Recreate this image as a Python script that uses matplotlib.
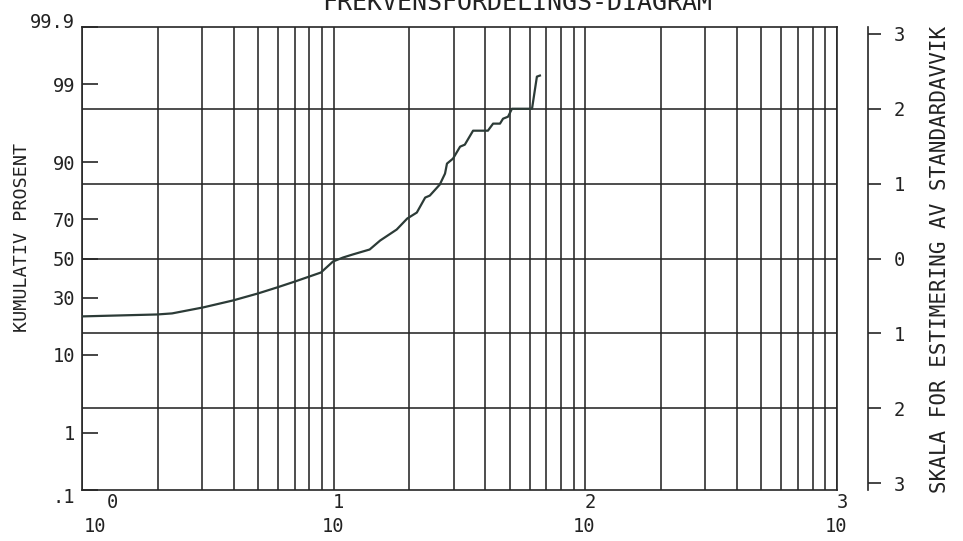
import numpy as np
import matplotlib
matplotlib.use("Agg")
import matplotlib.pyplot as plt
from matplotlib import scale as mscale, transforms as mtransforms, ticker
from statistics import NormalDist

# Cumulative frequency curve: x values (log scale) and cumulative percent
x_vals = [1.0, 1.99, 2.28, 3.03, 3.98, 5.00, 5.95, 7.02, 8.90, 9.94,
          10.9, 11.9, 13.9, 15.3, 17.8, 19.6, 21.4, 23.1, 24.1, 26.4,
          27.7, 28.2, 29.8, 31.8, 33.2, 35.8, 41.0, 43.0, 45.8, 47.1,
          49.3, 51.1, 61.4, 64.2, 66.0]
cum_pct = [21.98, 22.75, 23.18, 25.69, 28.77, 32.03, 34.94, 37.94, 42.58, 48.40,
           50.53, 52.13, 54.78, 59.48, 65.05, 70.31, 73.02, 79.20, 79.95, 83.81,
           87.15, 89.74, 90.88, 93.23, 93.57, 95.60, 95.60, 96.41, 96.41, 96.90,
           97.08, 97.72, 97.72, 99.24, 99.27]

pct_ticks = [0.1, 1, 10, 30, 50, 70, 90, 99, 99.9]
pct_labels = [".1", "1", "10", "30", "50", "70", "90", "99", "99.9"]
sigma_ticks = [-3, -2, -1, 0, 1, 2, 3]
sigma_labels = ["3", "2", "1", "0", "1", "2", "3"]
sigma_lines = [-2, -1, 0, 1, 2]
decades = [0, 1, 2, 3]

title = "FREKVENSFORDELINGS-DIAGRAM"
left_title = "KUMULATIV PROSENT"
right_title = "SKALA FOR ESTIMERING AV STANDARDAVVIK"

_nd = NormalDist()
_ppf = np.vectorize(lambda p: _nd.inv_cdf(min(max(p / 100.0, 1e-9), 1 - 1e-9)), otypes=[float])
_cdf = np.vectorize(lambda z: _nd.cdf(z) * 100.0, otypes=[float])


class ProbitTransform(mtransforms.Transform):
    input_dims = output_dims = 1

    def transform_non_affine(self, a):
        return _ppf(np.asarray(a, dtype=float))

    def inverted(self):
        return InvProbitTransform()


class InvProbitTransform(mtransforms.Transform):
    input_dims = output_dims = 1

    def transform_non_affine(self, a):
        return _cdf(np.asarray(a, dtype=float))

    def inverted(self):
        return ProbitTransform()


class ProbitScale(mscale.ScaleBase):
    name = "probit"

    def get_transform(self):
        return ProbitTransform()

    def set_default_locators_and_formatters(self, axis):
        axis.set_major_locator(ticker.FixedLocator(pct_ticks))
        axis.set_major_formatter(ticker.FixedFormatter(pct_labels))
        axis.set_minor_locator(ticker.NullLocator())

    def limit_range_for_scale(self, vmin, vmax, minpos):
        return max(vmin, 1e-7), min(vmax, 100 - 1e-7)


mscale.register_scale(ProbitScale)

INK = "#262626"
CURVE = "#2c3b37"
FONT = ["DejaVu Sans Mono", "DejaVu Sans"]
plt.rcParams["font.family"] = FONT

W, H = 963, 541
fig = plt.figure(figsize=(W / 100, H / 100), dpi=100)
fig.patch.set_facecolor("white")

left, right, top, bottom = 82, 837, 27, 490
ax = fig.add_axes([left / W, 1 - bottom / H, (right - left) / W, (bottom - top) / H])
ax.set_xscale("log")
ax.set_yscale("probit")
ax.set_xlim(10 ** decades[0], 10 ** decades[-1])
ax.set_ylim(0.1, 99.9)

# vertical grid at every decade subdivision
ax.xaxis.set_major_locator(ticker.LogLocator(base=10))
ax.xaxis.set_minor_locator(ticker.LogLocator(base=10, subs=np.arange(2, 10)))
ax.xaxis.set_major_formatter(ticker.NullFormatter())
ax.xaxis.set_minor_formatter(ticker.NullFormatter())
ax.grid(True, which="both", axis="x", color=INK, linewidth=1.15)
ax.tick_params(axis="x", which="both", length=0)

# horizontal lines at whole standard deviations
for s in sigma_lines:
    ax.axhline(_cdf(s), color=INK, linewidth=1.15, zorder=1)

for sp in ax.spines.values():
    sp.set_color(INK)
    sp.set_linewidth(1.2)

ax.set_yticks(pct_ticks)
ax.set_yticklabels(pct_labels)
ax.tick_params(axis="y", direction="in", length=11.5, width=1.2, color=INK,
               pad=5, labelsize=13.5, labelcolor="#222222")
for lab in ax.get_yticklabels():
    if lab.get_text() == "99.9":
        lab.set_transform(lab.get_transform() + mtransforms.ScaledTranslation(0, 5 / 72, fig.dpi_scale_trans))
    elif lab.get_text() == ".1":
        lab.set_transform(lab.get_transform() + mtransforms.ScaledTranslation(0, -4 / 72, fig.dpi_scale_trans))

ax.plot(x_vals, cum_pct, color=CURVE, linewidth=1.6, zorder=3, solid_joinstyle="round")

# decade labels written as 10 with the exponent above
xform = mtransforms.blended_transform_factory(ax.transData, fig.transFigure)
for i, d in enumerate(decades):
    shift = 13 if i == 0 else -1
    ax.annotate("10", xy=(10 ** d, 1 - 526 / H), xycoords=xform,
                xytext=(shift * 0.72, 0), textcoords="offset points",
                ha="center", va="center", fontsize=13.5, color="#222222")
    eshift = 30 if i == 0 else 5
    ax.annotate(str(d), xy=(10 ** d, 1 - 502 / H), xycoords=xform,
                xytext=(eshift * 0.72, 0), textcoords="offset points",
                ha="center", va="center", fontsize=13.5, color="#222222")

# separate standard-deviation scale on the right
ax_r = fig.add_axes([868 / W - 0.0005, 1 - bottom / H, 0.0005, (bottom - top) / H])
ax_r.set_ylim(_ppf(0.1), _ppf(99.9))
for name, sp in ax_r.spines.items():
    sp.set_visible(name == "right")
ax_r.spines["right"].set_color(INK)
ax_r.spines["right"].set_linewidth(1.2)
ax_r.patch.set_visible(False)
ax_r.set_xticks([])
ax_r.yaxis.tick_right()
ax_r.set_yticks(sigma_ticks)
ax_r.set_yticklabels(sigma_labels)
ax_r.tick_params(axis="y", direction="out", length=9.5, width=1.2, color=INK,
                 pad=9, labelsize=13.5, labelcolor="#222222")

fig.text(517 / W, 1 - 10 / H, title, ha="center", va="baseline",
         fontsize=18, color="#222222")
fig.text(22 / W, 1 - 237 / H, left_title, rotation=90, ha="center", va="center",
         fontsize=13.2, color="#222222")
fig.text(940 / W, 1 - 259 / H, right_title, rotation=90, ha="center", va="center",
         fontsize=15, color="#222222")

fig.savefig("out.png", dpi=100, facecolor="white")
